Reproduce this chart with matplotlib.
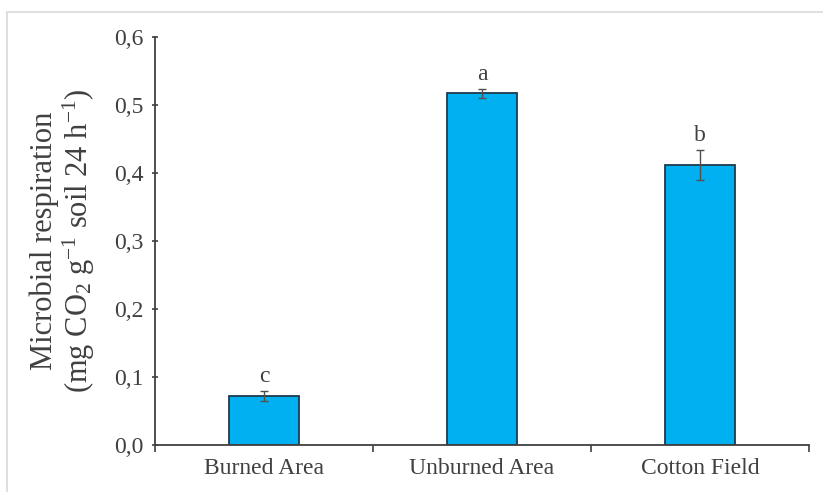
import matplotlib.pyplot as plt
from matplotlib.patches import Rectangle
from matplotlib.ticker import FuncFormatter

plt.rcParams['font.family'] = ['Liberation Serif', 'DejaVu Serif']
plt.rcParams['mathtext.fontset'] = 'custom'
plt.rcParams['mathtext.rm'] = 'Liberation Serif'
plt.rcParams['mathtext.it'] = 'Liberation Serif:italic'

# data
categories = ['Burned Area', 'Unburned Area', 'Cotton Field']
respiration = [0.072, 0.517, 0.412]
errors = [0.007, 0.007, 0.022]
letters = ['c', 'a', 'b']

text_col = '#404040'
fig = plt.figure(figsize=(8.23, 4.92), dpi=100)

# light frame around the chart area
fig.patches.append(Rectangle((7 / 823, -0.1), 1.2, (480 / 492) + 0.1, transform=fig.transFigure,
                             fill=False, edgecolor='#d9d9d9', linewidth=1.2))

ax = fig.add_axes([155 / 823, 1 - 445 / 492, (809 - 155) / 823, (445 - 37) / 492])
x = range(len(categories))
ax.bar(x, respiration, width=0.32, color='#00B0F0', edgecolor='#1f3a4d', linewidth=1.3,
       yerr=errors, error_kw=dict(ecolor='#505050', elinewidth=1.0, capsize=3, capthick=1.0))

for i, (v, e, l) in enumerate(zip(respiration, errors, letters)):
    ax.text(i, v + e + 0.006, l, ha='center', va='bottom', fontsize=17, color=text_col)

ax.set_xlim(-0.5, 2.5)
ax.set_ylim(0, 0.6)
ax.set_yticks([0, 0.1, 0.2, 0.3, 0.4, 0.5, 0.6])
ax.yaxis.set_major_formatter(FuncFormatter(lambda v, p: f'{v:.1f}'.replace('.', ',')))

# category boundaries get ticks, labels sit at the centres
ax.set_xticks([-0.5, 0.5, 1.5, 2.5])
ax.set_xticklabels([])
ax.set_xticks(list(x), minor=True)
ax.set_xticklabels(categories, minor=True, fontsize=17, color=text_col)
ax.tick_params(axis='x', which='minor', length=0, pad=9)
ax.tick_params(axis='x', which='major', length=5, width=1.2, color='#404040', direction='out')
ax.tick_params(axis='y', labelsize=17, labelcolor=text_col, length=5, width=1.2,
               color='#404040', direction='inout', pad=6)

for s in ['top', 'right']:
    ax.spines[s].set_visible(False)
for s in ['left', 'bottom']:
    ax.spines[s].set_color('#404040')
    ax.spines[s].set_linewidth(1.3)

ax.set_ylabel('Microbial respiration\n(mg CO$_2$ g$^{-1}$ soil 24 h$^{-1}$)', fontsize=22,
              color=text_col, labelpad=12, linespacing=1.05)

fig.savefig('out.png', dpi=100)
